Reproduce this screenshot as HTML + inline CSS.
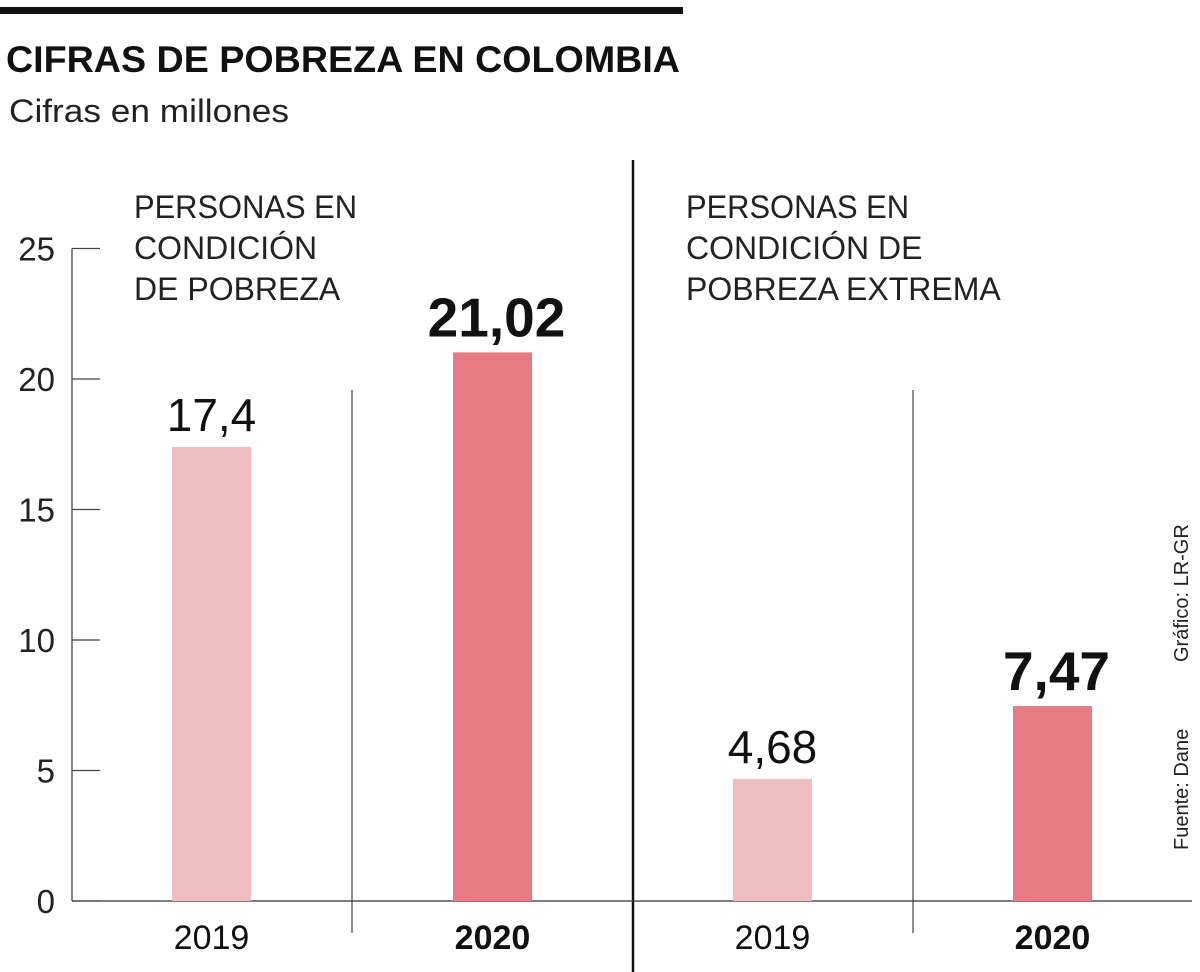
<!DOCTYPE html>
<html><head><meta charset="utf-8"><style>
html,body{margin:0;padding:0;background:#fff;}
svg{display:block;font-family:"Liberation Sans",sans-serif;}
</style></head><body>
<svg id="chart" width="1200" height="972" viewBox="0 0 1200 972">
<rect x="0" y="7" width="683" height="7" fill="#111"/>
<text x="6" y="72" font-size="37" font-weight="bold" fill="#111" textLength="674" lengthAdjust="spacingAndGlyphs">CIFRAS DE POBREZA EN COLOMBIA</text>
<text x="9" y="122" font-size="32" fill="#222" textLength="280" lengthAdjust="spacingAndGlyphs">Cifras en millones</text>
<g font-size="32" fill="#222">
<text x="134" y="218"><tspan x="134" textLength="223" lengthAdjust="spacingAndGlyphs">PERSONAS EN</tspan><tspan x="134" dy="41">CONDICIÓN</tspan><tspan x="134" dy="41">DE POBREZA</tspan></text>
<text x="686" y="218"><tspan x="686" textLength="223" lengthAdjust="spacingAndGlyphs">PERSONAS EN</tspan><tspan x="686" dy="41">CONDICIÓN DE</tspan><tspan x="686" dy="41">POBREZA EXTREMA</tspan></text>
</g>
<line x1="633" y1="160" x2="633" y2="972" stroke="#111" stroke-width="2.5"/>
<line x1="352" y1="390" x2="352" y2="933" stroke="#444" stroke-width="1.2"/>
<line x1="913" y1="390" x2="913" y2="933" stroke="#444" stroke-width="1.2"/>
<g id="axis"></g>
<g id="bars"></g>
<text transform="translate(1188,850) rotate(-90)" font-size="20" fill="#222">Fuente: Dane</text>
<text transform="translate(1188,662) rotate(-90)" font-size="20" fill="#222">Gráfico: LR-GR</text>
</svg>
<script>
const categories = ["2019","2020","2019","2020"];
const values = [17.4, 21.02, 4.68, 7.47];
const valueLabels = ["17,4","21,02","4,68","7,47"];
const ticks = [0,5,10,15,20,25];
const NS="http://www.w3.org/2000/svg";
const y0=901, pxPerUnit=26.1;
function y(v){return y0-v*pxPerUnit;}
const barX=[172,453,733,1013], bw=79;
function mk(tag,attrs,parent){const e=document.createElementNS(NS,tag);for(const k in attrs)e.setAttribute(k,attrs[k]);parent.appendChild(e);return e;}
const ax=document.getElementById('axis');
let l=mk('line',{x1:72,y1:y(25),x2:72,y2:y0,stroke:'#444','stroke-width':1.3},ax);


l=mk('line',{x1:72,y1:y0,x2:1192,y2:y0,stroke:'#333','stroke-width':1.3},ax);


ticks.forEach(t=>{
  const tl=mk('line',{x1:72,y1:y(t),x2:100,y2:y(t),stroke:'#444','stroke-width':1.3},ax);
  
  
  const tx=mk('text',{x:55,y:y(t)+12,'font-size':33,'text-anchor':'end',fill:'#222'},ax);
  tx.textContent=String(t);
  
  
});
const bg=document.getElementById('bars');
values.forEach((v,i)=>{
  const bold=i%2===1;
  const r=mk('rect',{x:barX[i],y:y(v),width:bw,height:y0-y(v),fill:bold?'#e87a84':'#efbcbf'},bg);
  
  
  const vl=mk('text',{x:barX[i]+bw/2+ (bold?4:0),y:y(v)-16,'font-size':bold?55:46,'font-weight':bold?'bold':'normal','text-anchor':'middle',fill:'#111'},bg);
  vl.textContent=valueLabels[i];
  
  
  const cl=mk('text',{x:barX[i]+bw/2,y:949,'font-size':34,'font-weight':bold?'bold':'normal','text-anchor':'middle',fill:'#111'},bg);
  cl.textContent=categories[i];
  
  
});
</script>
</body></html>
